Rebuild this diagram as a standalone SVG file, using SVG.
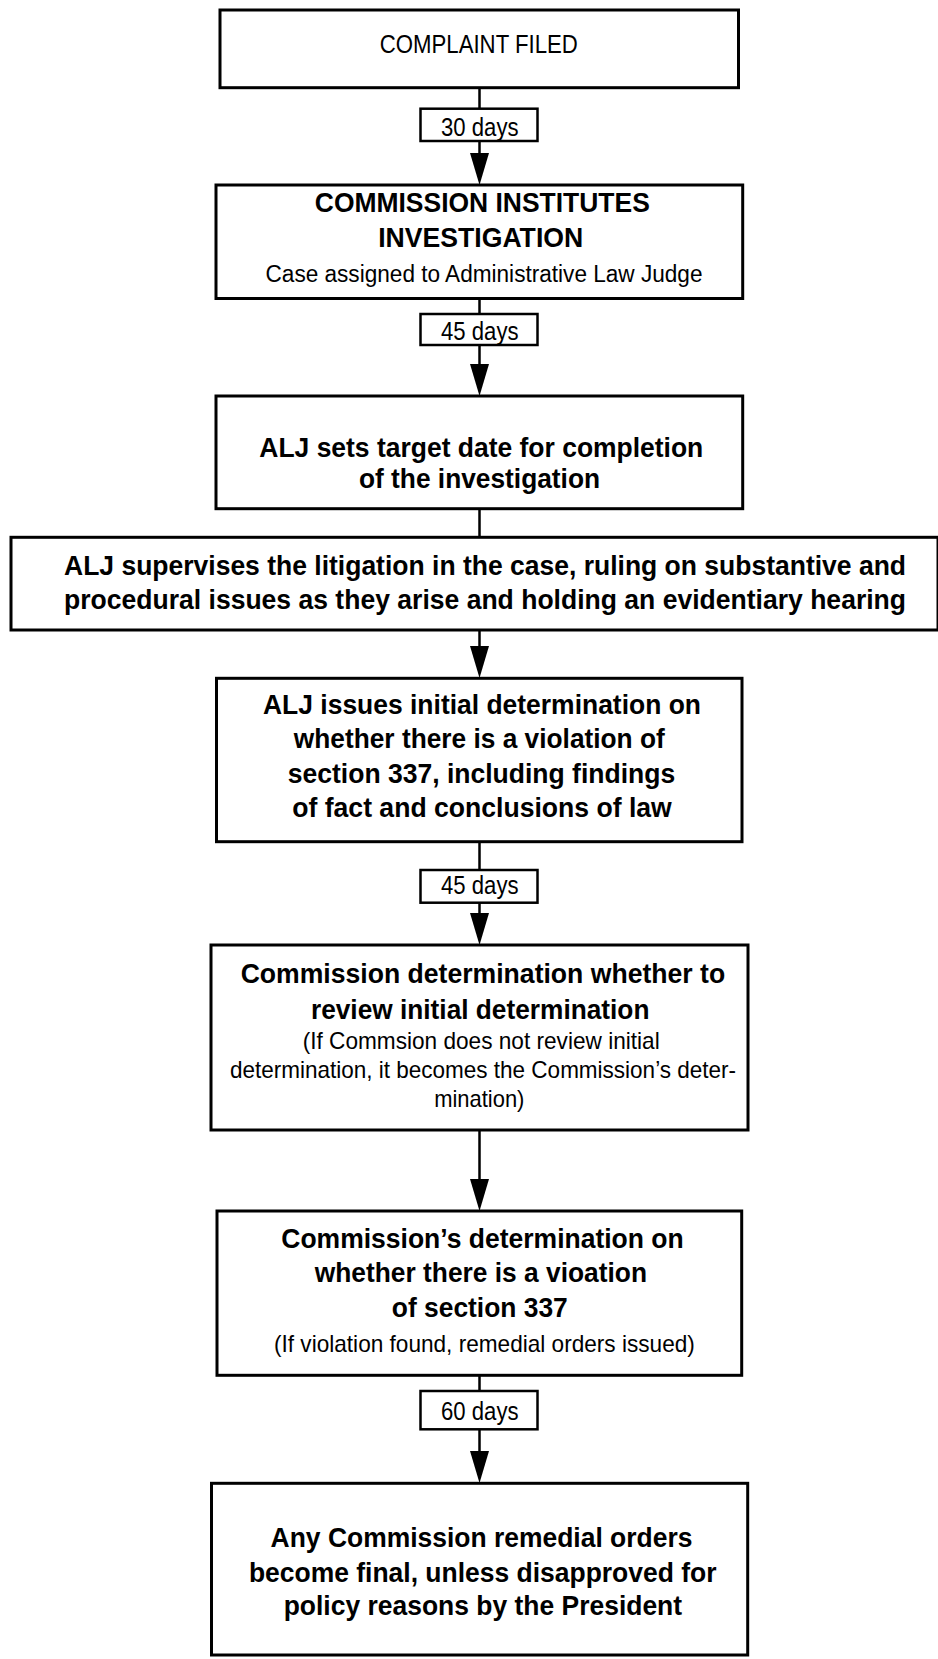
<svg xmlns="http://www.w3.org/2000/svg" xmlns:xlink="http://www.w3.org/1999/xlink" width="938" height="1659" viewBox="0 0 938 1659">
<style>
.box{fill:#fff;stroke:#000;stroke-width:3}
.lbl{fill:#fff;stroke:#000;stroke-width:2.5}
text{font-family:"Liberation Sans Narrow","Liberation Sans",Arial,sans-serif;fill:#000;text-anchor:middle}
.b{font-weight:bold;font-size:28.5px}
.b27{font-weight:bold;font-size:27px}
.r{font-size:24px}
.r22{font-size:23px}
.t{font-size:25.5px}
.d{font-size:25px}
.conn line{stroke:#000;stroke-width:2.5}
</style>
<defs>
<path id="ah" d="M-9.5,-31 L9.5,-31 L0,1 Z" fill="#000"/>
</defs>
<rect width="938" height="1659" fill="#fff"/>

<g id="connectors" class="conn">
<line x1="479.5" y1="88" x2="479.5" y2="109"/>
<line x1="479.5" y1="141" x2="479.5" y2="160"/>
<use xlink:href="#ah" x="479.5" y="184"/>
<line x1="479.5" y1="298" x2="479.5" y2="314"/>
<line x1="479.5" y1="345" x2="479.5" y2="370"/>
<use xlink:href="#ah" x="479.5" y="395"/>
<line x1="479.5" y1="508" x2="479.5" y2="537"/>
<line x1="479.5" y1="630" x2="479.5" y2="655"/>
<use xlink:href="#ah" x="479.5" y="677"/>
<line x1="479.5" y1="841" x2="479.5" y2="870"/>
<line x1="479.5" y1="902" x2="479.5" y2="920"/>
<use xlink:href="#ah" x="479.5" y="944"/>
<line x1="479.5" y1="1130" x2="479.5" y2="1185"/>
<use xlink:href="#ah" x="479.5" y="1210"/>
<line x1="479.5" y1="1375" x2="479.5" y2="1391"/>
<line x1="479.5" y1="1429" x2="479.5" y2="1458"/>
<use xlink:href="#ah" x="479.5" y="1482"/>
</g>

<g id="label-30">
<rect class="lbl" x="420.5" y="108.7" width="117" height="32.3"/>
<text class="d" x="479.8" y="136" textLength="77.5" lengthAdjust="spacingAndGlyphs">30 days</text>
</g>
<g id="label-45a">
<rect class="lbl" x="420.5" y="314" width="117" height="31"/>
<text class="d" x="479.8" y="340" textLength="77.5" lengthAdjust="spacingAndGlyphs">45 days</text>
</g>
<g id="label-45b">
<rect class="lbl" x="420.5" y="870" width="117" height="32.7"/>
<text class="d" x="479.8" y="893.5" textLength="77.5" lengthAdjust="spacingAndGlyphs">45 days</text>
</g>
<g id="label-60">
<rect class="lbl" x="420.5" y="1391" width="117" height="38.3"/>
<text class="d" x="479.8" y="1420" textLength="77.5" lengthAdjust="spacingAndGlyphs">60 days</text>
</g>

<g id="complaint">
<rect class="box" x="220" y="10" width="518.5" height="77.7"/>
<text class="t" x="478.8" y="53.3" textLength="198" lengthAdjust="spacingAndGlyphs">COMPLAINT FILED</text>
</g>

<g id="institutes">
<rect class="box" x="216" y="185" width="526.7" height="113.5"/>
<text class="b27" x="482.3" y="212" textLength="335" lengthAdjust="spacingAndGlyphs">COMMISSION INSTITUTES</text>
<text class="b27" x="480.7" y="247.3" textLength="205" lengthAdjust="spacingAndGlyphs">INVESTIGATION</text>
<text class="r22" x="484" y="281.7" textLength="437" lengthAdjust="spacingAndGlyphs">Case assigned to Administrative Law Judge</text>
</g>

<g id="target-date">
<rect class="box" x="216" y="396" width="526.7" height="112.7"/>
<text class="b" x="481.3" y="456.7" textLength="444" lengthAdjust="spacingAndGlyphs">ALJ sets target date for completion</text>
<text class="b" x="479.5" y="488.3" textLength="241" lengthAdjust="spacingAndGlyphs">of the investigation</text>
</g>

<g id="supervises">
<rect class="box" x="11" y="537.3" width="927" height="92.7"/>
<text class="b" transform="translate(485,575) scale(0.8,1)" x="0" y="0" textLength="1052.5" lengthAdjust="spacingAndGlyphs">ALJ supervises the litigation in the case, ruling on substantive and</text>
<text class="b" transform="translate(485,609.3) scale(0.8,1)" x="0" y="0" textLength="1052.5" lengthAdjust="spacingAndGlyphs">procedural issues as they arise and holding an evidentiary hearing</text>
</g>

<g id="initial-determination">
<rect class="box" x="216.5" y="678.3" width="525.5" height="163.4"/>
<text class="b" x="482" y="714.3" textLength="438" lengthAdjust="spacingAndGlyphs">ALJ issues initial determination on</text>
<text class="b" x="479.3" y="748.3" textLength="371" lengthAdjust="spacingAndGlyphs">whether there is a violation of</text>
<text class="b" x="481.5" y="782.7" textLength="387.4" lengthAdjust="spacingAndGlyphs">section 337, including findings</text>
<text class="b" x="482" y="817.3" textLength="379.5" lengthAdjust="spacingAndGlyphs">of fact and conclusions of law</text>
</g>

<g id="review">
<rect class="box" x="211" y="945" width="537" height="185"/>
<text class="b" x="482.9" y="983.3" textLength="484.5" lengthAdjust="spacingAndGlyphs">Commission determination whether to</text>
<text class="b" x="480.2" y="1019.3" textLength="338.5" lengthAdjust="spacingAndGlyphs">review initial determination</text>
<text class="r" x="481.2" y="1049.3" textLength="357" lengthAdjust="spacingAndGlyphs">(If Commsion does not review initial</text>
<text class="r" x="483" y="1078.3" textLength="506" lengthAdjust="spacingAndGlyphs">determination, it becomes the Commission’s deter-</text>
<text class="r" x="479.3" y="1106.7" textLength="90.2" lengthAdjust="spacingAndGlyphs">mination)</text>
</g>

<g id="commission-determination">
<rect class="box" x="217" y="1211" width="524.7" height="164.3"/>
<text class="b" x="482.5" y="1248.3" textLength="402.5" lengthAdjust="spacingAndGlyphs">Commission’s determination on</text>
<text class="b" x="480.9" y="1281.7" textLength="332.3" lengthAdjust="spacingAndGlyphs">whether there is a vioation</text>
<text class="b" x="479.8" y="1316.7" textLength="176" lengthAdjust="spacingAndGlyphs">of section 337</text>
<text class="r" x="484.4" y="1351.7" textLength="420.8" lengthAdjust="spacingAndGlyphs">(If violation found, remedial orders issued)</text>
</g>

<g id="final">
<rect class="box" x="211.5" y="1483.3" width="536.2" height="171.7"/>
<text class="b" x="481.5" y="1546.7" textLength="421.8" lengthAdjust="spacingAndGlyphs">Any Commission remedial orders</text>
<text class="b" x="482.7" y="1581.7" textLength="467.6" lengthAdjust="spacingAndGlyphs">become final, unless disapproved for</text>
<text class="b" x="482.9" y="1615" textLength="398.4" lengthAdjust="spacingAndGlyphs">policy reasons by the President</text>
</g>
</svg>
